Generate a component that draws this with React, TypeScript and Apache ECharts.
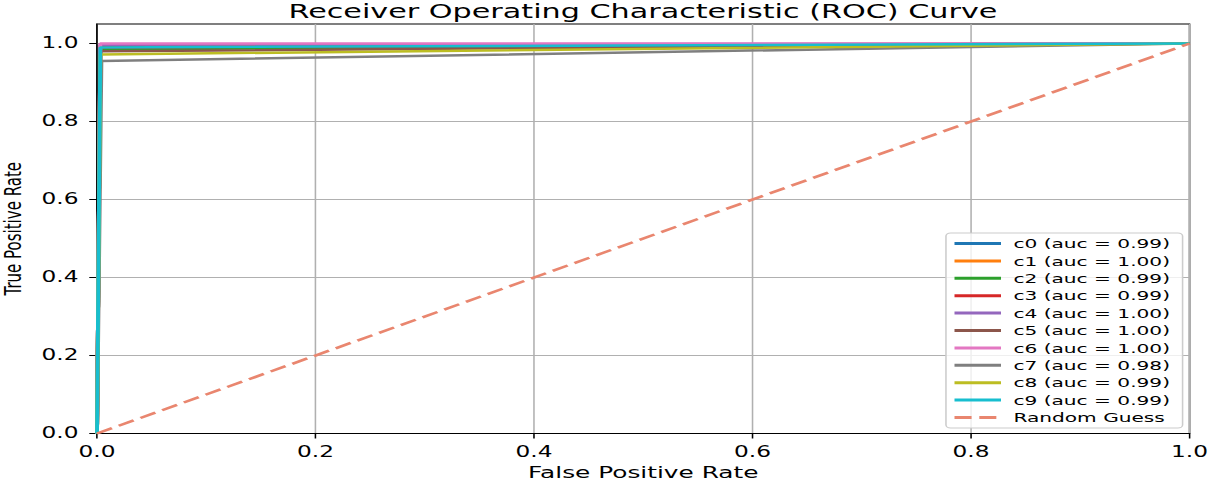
import React, { useEffect, useRef } from "react";
import * as echarts from "echarts";

// ---- data ----
const classNames = ["c0", "c1", "c2", "c3", "c4", "c5", "c6", "c7", "c8", "c9"];
const aucValues = ["0.99", "1.00", "0.99", "0.99", "1.00", "1.00", "1.00", "0.98", "0.99", "0.99"];
const fprPoints = [0.003, 0.003, 0.003, 0.003, 0.003, 0.003, 0.003, 0.004, 0.003, 0.003];
const tprPoints = [0.99, 0.995, 0.985, 0.99, 0.997, 0.98, 1.0, 0.955, 0.972, 0.99];
const classColors = ["#1f77b4", "#ff7f0e", "#2ca02c", "#d62728", "#9467bd", "#8c564b", "#e377c2", "#7f7f7f", "#bcbd22", "#17becf"];
const randomGuess = [[0, 0], [1, 1]];
const tickValues = [0, 0.2, 0.4, 0.6, 0.8, 1.0];

const S = 1.55; // horizontal stretch of the reference picture
const W = 1210 / S;
const H = 481;

export default function App() {
  const ref = useRef<HTMLDivElement>(null);
  useEffect(() => {
    document.body.style.margin = "0";
    document.body.style.overflow = "hidden";
    const chart = echarts.init(ref.current!, null, { renderer: "svg" });
    const font = "'DejaVu Sans', sans-serif";
    const series: any[] = classNames.map((c, i) => ({
      name: `${c} (auc = ${aucValues[i]})`,
      type: "line",
      symbol: "none",
      data: [[0, 0], [fprPoints[i], tprPoints[i]], [1, 1]],
      lineStyle: { color: classColors[i], width: 2.5 },
      itemStyle: { color: classColors[i] },
    }));
    series.push({
      name: "Random Guess",
      type: "line",
      symbol: "none",
      data: randomGuess,
      lineStyle: { color: "#E9866F", width: 2.5, type: [11, 5] },
      itemStyle: { color: "#E9866F" },
    });
    const axisCommon = {
      axisLine: { show: true, lineStyle: { color: "#000", width: 1 } },
      axisTick: { show: true, inside: false, length: 5, lineStyle: { color: "#000" }, customValues: tickValues },
      splitLine: { show: true, lineStyle: { color: "#b0b0b0", width: 1 } },
    };
    chart.setOption({
      animation: false,
      backgroundColor: "#fff",
      title: {
        text: "Receiver Operating Characteristic (ROC) Curve",
        left: 414.8,
        textAlign: "center",
        top: 1,
        padding: 0,
        textStyle: { fontSize: 19.5, lineHeight: 20, fontWeight: "normal", color: "#000", fontFamily: font },
      },
      grid: {
        left: 62.6,
        right: W - 767.1,
        top: 24,
        bottom: 47.5,
        show: true,
        borderColor: "#000",
        borderWidth: 1,
        containLabel: false,
        outerBoundsMode: "none",
      },
      xAxis: {
        type: "value",
        min: 0,
        max: 1,
        interval: 0.2,
        name: "False Positive Rate",
        nameLocation: "middle",
        nameGap: 31,
        nameTextStyle: { color: "#000", fontSize: 16, lineHeight: 16, fontFamily: font },
        ...axisCommon,
        axisLabel: {
          color: "#000",
          fontSize: 15,
          fontFamily: font,
          margin: 11,
          formatter: (v: number) => v.toFixed(1),
        },
      },
      yAxis: {
        type: "value",
        min: 0,
        max: 1.05,
        interval: 0.2,
        name: "True Positive Rate",
        nameLocation: "middle",
        nameGap: 46,
        nameTextStyle: { color: "#000", fontSize: 15, fontFamily: font },
        ...axisCommon,
        axisLabel: {
          color: "#000",
          fontSize: 15,
          fontFamily: font,
          margin: 12,
          customValues: tickValues,
          formatter: (v: number) => v.toFixed(1),
        },
      },
      legend: {
        orient: "vertical",
        right: W - 762.6,
        bottom: 53,
        itemWidth: 30,
        itemHeight: 13,
        itemGap: 4.4,
        padding: [4, 8, 4, 4],
        borderColor: "#cccccc",
        borderWidth: 1,
        borderRadius: 3,
        backgroundColor: "rgba(255,255,255,0.8)",
        itemStyle: { color: "rgba(0,0,0,0)", borderWidth: 0, opacity: 0 },
        lineStyle: { width: 3 },
        textStyle: { fontSize: 13, color: "#000", fontFamily: font, padding: [0, 0, 0, 3] },
        data: series.map((s) => s.name),
      },
      series,
    });
    return () => chart.dispose();
  }, []);
  return (
    <div
      ref={ref}
      style={{ width: W, height: H, transform: `scaleX(${S})`, transformOrigin: "left top" }}
    />
  );
}
